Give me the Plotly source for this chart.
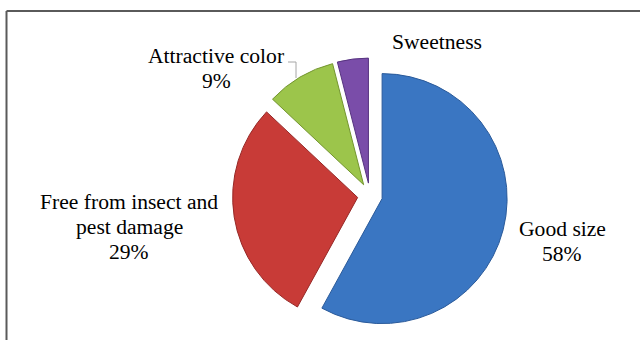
import plotly.graph_objects as go

# Reasons for preference, share of respondents (%)
categories = ["Good size", "Free from insect and<br>pest damage", "Attractive color", "Sweetness"]
shares = [58, 29, 9, 4]
show_pct = [True, True, True, False]
colors = ["#3A76C2", "#C83B37", "#9CC54B", "#7A4DA9"]
edge_colors = ["#2A5A9A", "#962826", "#73952F", "#573380"]

# label placement (pixel centres of the first line) and line step
label_xy = [(562, 229), (129, 202), (216, 56), (437, 42)]
line_step = 25

W, H = 640, 340

fig = go.Figure(
    go.Pie(
        labels=[c.replace("<br>", " ") for c in categories],
        values=shares,
        sort=False,
        direction="clockwise",
        rotation=0,
        pull=[0.1] * len(shares),
        textinfo="none",
        hoverinfo="label+percent",
        marker=dict(colors=colors, line=dict(color=edge_colors, width=1)),
        domain=dict(x=[232.5 / W, 507.5 / W], y=[1 - 333.5 / H, 1 - 57.5 / H]),
        showlegend=False,
    )
)

annotations = []
for name, v, pct, (px, py) in zip(categories, shares, show_pct, label_xy):
    lines = name.split("<br>") + ([f"{v}%"] if pct else [])
    for i, line in enumerate(lines):
        annotations.append(
            dict(
                x=px / W, y=1 - (py + i * line_step) / H,
                xref="paper", yref="paper",
                text=line, showarrow=False,
                xanchor="center", yanchor="middle",
                font=dict(family="Liberation Serif", size=21.6, color="#000000"),
            )
        )

shapes = [
    # chart frame (top and left edges)
    dict(type="line", xref="paper", yref="paper",
         x0=6.5 / W, y0=1 - 11 / H, x1=1, y1=1 - 11 / H,
         line=dict(color="#5a5a5a", width=2)),
    dict(type="line", xref="paper", yref="paper",
         x0=6.5 / W, y0=1 - 11 / H, x1=6.5 / W, y1=0,
         line=dict(color="#5a5a5a", width=2)),
    # leader line for the "Attractive color" label
    dict(type="path", xref="paper", yref="paper",
         path=f"M {288 / W} {1 - 62 / H} L {296 / W} {1 - 62 / H} L {296 / W} {1 - 78 / H}",
         line=dict(color="#a6a6a6", width=1)),
]

fig.update_layout(
    width=W, height=H,
    margin=dict(l=0, r=0, t=0, b=0),
    paper_bgcolor="white",
    plot_bgcolor="white",
    annotations=annotations,
    shapes=shapes,
)

fig.write_html("out.html")
